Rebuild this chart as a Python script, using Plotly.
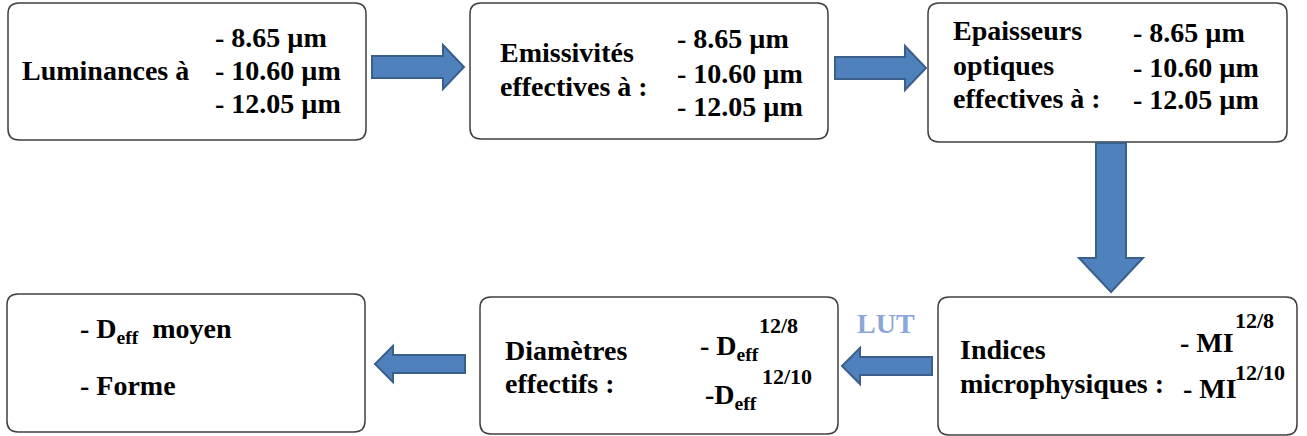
import plotly.graph_objects as go

# ---- text content ----
wavelengths = ["8.65", "10.60", "12.05"]
unit = "µm"
ratios = ["12/8", "12/10"]
titles_top = [["Luminances à"], ["Emissivités", "effectives à :"], ["Epaisseurs", "optiques", "effectives à :"]]
titles_bottom = [["Indices", "microphysiques :"], ["Diamètres", "effectifs :"]]
final_items = ["- D<sub>eff</sub>  moyen", "- Forme"]
lut_label = "LUT"

# ---- layout constants ----
W, H = 1307, 436
FONT = "Liberation Serif, Times New Roman, serif"
FS = 28
SUP = 22
BOX_LINE = "#404040"
ARROW_FILL = "#4F81BD"
ARROW_LINE = "#3A5F8B"

boxes = [(8, 3, 366, 140), (470, 3, 828, 139), (928, 3, 1287, 142),
         (938, 297, 1297, 435), (480, 297, 838, 434), (7, 294, 365, 432)]


def rrect(x0, y0, x1, y1, r=11):
    return (f"M{x0+r},{y0} L{x1-r},{y0} Q{x1},{y0} {x1},{y0+r} L{x1},{y1-r} "
            f"Q{x1},{y1} {x1-r},{y1} L{x0+r},{y1} Q{x0},{y1} {x0},{y1-r} "
            f"L{x0},{y0+r} Q{x0},{y0} {x0+r},{y0} Z")


def harrow(xs, xh, xt, cy, sh, hh):
    return (f"M{xs},{cy-sh} L{xh},{cy-sh} L{xh},{cy-hh} L{xt},{cy} L{xh},{cy+hh} "
            f"L{xh},{cy+sh} L{xs},{cy+sh} Z")


def varrow(cx, ys, yh, yt, sw, hw):
    return (f"M{cx-sw},{ys} L{cx-sw},{yh} L{cx-hw},{yh} L{cx},{yt} L{cx+hw},{yh} "
            f"L{cx+sw},{yh} L{cx+sw},{ys} Z")


shapes = []
for b in boxes:
    shapes.append(dict(type="path", path=rrect(*b), line=dict(color=BOX_LINE, width=1.5),
                       fillcolor="white", xref="x", yref="y", layer="below"))

arrows = [
    harrow(372, 443, 464, 67, 11, 22),
    harrow(835, 905, 926, 68, 11, 22),
    varrow(1111, 143, 258, 292, 15, 32),
    harrow(932, 860, 842, 366, 9, 18),
    harrow(465, 393, 375, 364, 9, 18),
]
for p in arrows:
    shapes.append(dict(type="path", path=p, fillcolor=ARROW_FILL,
                       line=dict(color=ARROW_LINE, width=2), xref="x", yref="y"))

ann = []


def txt(x, y, s, size=FS, color="black", anchor="left"):
    ann.append(dict(x=x, y=y, text=f"<b>{s}</b>", xref="x", yref="y", showarrow=False,
                    xanchor=anchor, yanchor="middle",
                    font=dict(family=FONT, size=size, color=color)))


# box 1
txt(20, 70, titles_top[0][0])
for w, y in zip(wavelengths, [37, 70, 103]):
    txt(213, y, f"- {w} {unit}")
# box 2
for t, y in zip(titles_top[1], [52, 86]):
    txt(498, y, t)
for w, y in zip(wavelengths, [38, 73, 106]):
    txt(675, y, f"- {w} {unit}")
# box 3
for t, y in zip(titles_top[2], [30, 65, 98]):
    txt(951, y, t)
for w, y in zip(wavelengths, [32, 67, 99]):
    txt(1131, y, f"- {w} {unit}")
# box 6 (Indices)
for t, y in zip(titles_bottom[0], [349, 383]):
    txt(958, y, t)
txt(1178, 342, "- MI")
txt(1181, 388, "- MI")
txt(1233, 320, ratios[0], size=SUP)
txt(1233, 372, ratios[1], size=SUP)
# box 5 (Diamètres)
for t, y in zip(titles_bottom[1], [350, 383]):
    txt(503, y, t)
txt(698, 347, "- D<sub>eff</sub>")
txt(703, 396, "-D<sub>eff</sub>")
txt(757, 325, ratios[0], size=SUP)
txt(760, 376, ratios[1], size=SUP)
# box 4
for t, y in zip(final_items, [330, 385]):
    txt(78, y, t)
# LUT
txt(886, 323, lut_label, size=28, color="#8AA6DA", anchor="center")

fig = go.Figure()
fig.update_layout(
    width=W, height=H, margin=dict(l=0, r=0, t=0, b=0),
    paper_bgcolor="white", plot_bgcolor="white",
    xaxis=dict(range=[0, W], visible=False, fixedrange=True),
    yaxis=dict(range=[H, 0], visible=False, fixedrange=True),
    shapes=shapes, annotations=ann, showlegend=False,
)
fig.write_html("out.html", config=dict(displayModeBar=False),
               post_script="document.body.style.margin='0px';document.body.style.overflow='hidden';")
